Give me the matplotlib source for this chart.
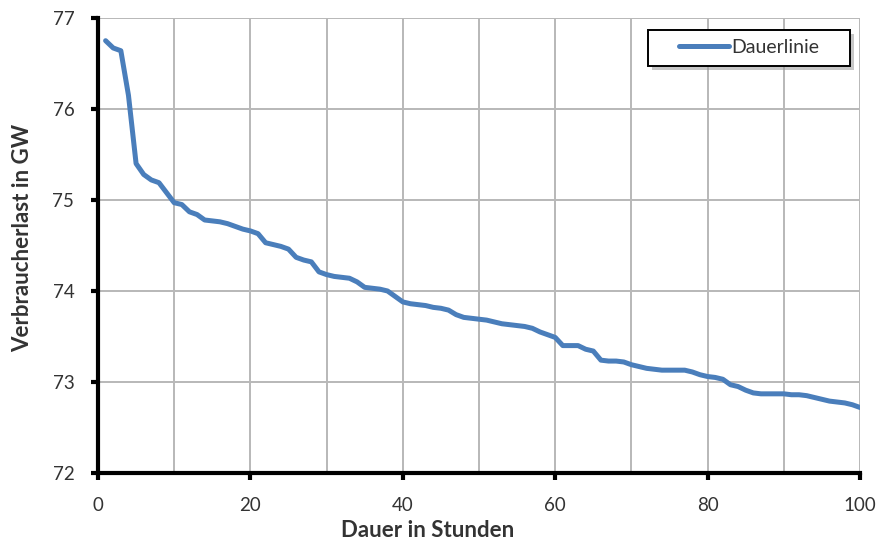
import matplotlib
matplotlib.use("Agg")
import matplotlib.pyplot as plt
from matplotlib.ticker import MultipleLocator
from matplotlib.patches import Rectangle

plt.rcParams['font.family'] = ['Lato', 'DejaVu Sans']

# Geordnete Verbraucherlast (Dauerlinie) der 100 Stunden mit der höchsten Last
hours = list(range(1, 101))
load_gw = [
    76.75, 76.67, 76.64, 76.15, 75.40, 75.28, 75.22, 75.19, 75.08, 74.97,
    74.95, 74.87, 74.84, 74.78, 74.77, 74.76, 74.74, 74.71, 74.68, 74.66,
    74.63, 74.53, 74.51, 74.49, 74.46, 74.37, 74.34, 74.32, 74.21, 74.18,
    74.16, 74.15, 74.14, 74.10, 74.04, 74.03, 74.02, 74.00, 73.94, 73.88,
    73.86, 73.85, 73.84, 73.82, 73.81, 73.79, 73.74, 73.71, 73.70, 73.69,
    73.68, 73.66, 73.64, 73.63, 73.62, 73.61, 73.59, 73.55, 73.52, 73.49,
    73.40, 73.40, 73.40, 73.36, 73.34, 73.24, 73.23, 73.23, 73.22, 73.19,
    73.17, 73.15, 73.14, 73.13, 73.13, 73.13, 73.13, 73.11, 73.08, 73.06,
    73.05, 73.03, 72.97, 72.95, 72.91, 72.88, 72.87, 72.87, 72.87, 72.87,
    72.86, 72.86, 72.85, 72.83, 72.81, 72.79, 72.78, 72.77, 72.75, 72.72,
]
series_label = "Dauerlinie"
x_label = "Dauer in Stunden"
y_label = "Verbraucherlast in GW"

fig = plt.figure(figsize=(8.78, 5.44), dpi=100)
ax = fig.add_axes([0.1116, 0.1305, 0.8679, 0.8365])

ax.plot(hours, load_gw, color="#4a7ebb", lw=3.6, solid_capstyle="round",
        solid_joinstyle="round", label=series_label, zorder=3)

ax.set_xlim(0, 100)
ax.set_ylim(72, 77)
ax.xaxis.set_major_locator(MultipleLocator(20))
ax.xaxis.set_minor_locator(MultipleLocator(10))
ax.yaxis.set_major_locator(MultipleLocator(1))

ax.grid(which="both", axis="x", color="#b8b8b8", lw=1.4, zorder=0)
ax.grid(which="major", axis="y", color="#b8b8b8", lw=1.4, zorder=0)

for side in ("top", "right"):
    ax.spines[side].set_visible(False)
for side in ("left", "bottom"):
    ax.spines[side].set_linewidth(3.0)
    ax.spines[side].set_color("black")
    ax.spines[side].set_zorder(4)

ax.tick_params(which="major", direction="out", length=5, width=3,
               labelsize=13.5, colors="black", labelcolor="#333333")
ax.tick_params(axis="x", which="major", pad=12)
ax.tick_params(axis="y", which="major", pad=12)
ax.tick_params(which="minor", length=0)

ax.set_xlabel(x_label, fontsize=16, fontweight="bold", color="#333333")
ax.set_ylabel(y_label, fontsize=16, fontweight="bold", color="#333333")
ax.xaxis.set_label_coords(0.432, -0.104)
ax.yaxis.set_label_coords(-0.085, 0.516)

# Legendenrahmen mit Schatten
bx0, bx1, by0, by1 = 0.722, 0.987, 0.895, 0.974
shadow = Rectangle((bx0 + 0.005, by0 - 0.010), bx1 - bx0, by1 - by0,
                   transform=ax.transAxes, facecolor="#9a9a9a", alpha=0.55,
                   edgecolor="none", zorder=5)
box = Rectangle((bx0, by0), bx1 - bx0, by1 - by0, transform=ax.transAxes,
                facecolor="white", edgecolor="black", lw=1.4, zorder=6)
ax.add_patch(shadow)
ax.add_patch(box)

leg = ax.legend(loc="center", bbox_to_anchor=((bx0 + bx1) / 2, (by0 + by1) / 2),
                fontsize=14, frameon=False, handlelength=2.6,
                handletextpad=0.1, borderpad=0.0, borderaxespad=0.0)
leg.set_zorder(7)
for t in leg.get_texts():
    t.set_color("#333333")

fig.savefig("out.png", dpi=100)
